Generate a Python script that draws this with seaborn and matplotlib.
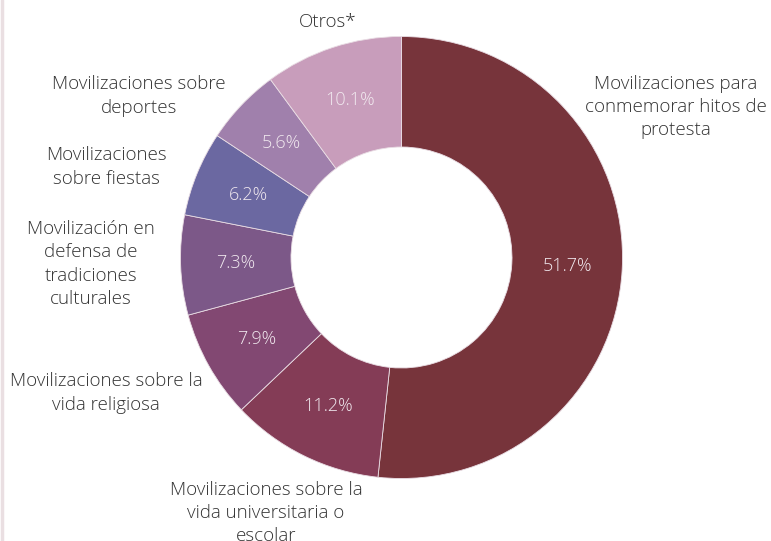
import matplotlib
matplotlib.use("Agg")
import matplotlib.pyplot as plt
import seaborn as sns
from matplotlib.lines import Line2D

categories = [
    "Movilizaciones para\nconmemorar hitos de\nprotesta",
    "Movilizaciones sobre la\nvida universitaria o\nescolar",
    "Movilizaciones sobre la\nvida religiosa",
    "Movilización en\ndefensa de\ntradiciones\nculturales",
    "Movilizaciones\nsobre fiestas",
    "Movilizaciones sobre\ndeportes",
    "Otros*",
]
shares = [51.7, 11.2, 7.9, 7.3, 6.2, 5.6, 10.1]
colors = ["#77343B", "#843C56", "#824872", "#7C5888", "#6B68A1", "#A080AC", "#C89DBB"]

# label anchor points in pixels (x, y from top)
label_pos = [(676, 107), (266, 513), (106, 393), (91, 264), (106, 167), (139, 96), (328, 22)]

sns.set_theme(style="white")
plt.rcParams["font.family"] = ["Open Sans", "DejaVu Sans"]

W, H = 771, 541
fig = plt.figure(figsize=(W / 100, H / 100), dpi=100)
ax = fig.add_axes([0, 0, 1, 1])

wedges, texts, autotexts = ax.pie(
    shares,
    colors=colors,
    startangle=90,
    counterclock=False,
    center=(401.5, H - 257.5),
    radius=221,
    frame=True,
    autopct="%.1f%%",
    pctdistance=0.75,
    wedgeprops=dict(width=110.5, edgecolor="#e9dde4", linewidth=0.6),
    textprops=dict(color="#f1e9ef", fontsize=13, fontweight="light"),
)
ax.set_xlim(0, W)
ax.set_ylim(0, H)
ax.set_aspect("equal")
ax.axis("off")

for lab, (x, y) in zip(categories, label_pos):
    ax.text(x, H - y, lab, ha="center", va="center", fontsize=13.5,
            color="#333333", fontweight="light", linespacing=1.38)

fig.add_artist(Line2D([0.002, 0.002], [0, 1], color="#eadfe2", lw=2.5,
                      transform=fig.transFigure))

fig.savefig("out.png", dpi=100, facecolor="white")
